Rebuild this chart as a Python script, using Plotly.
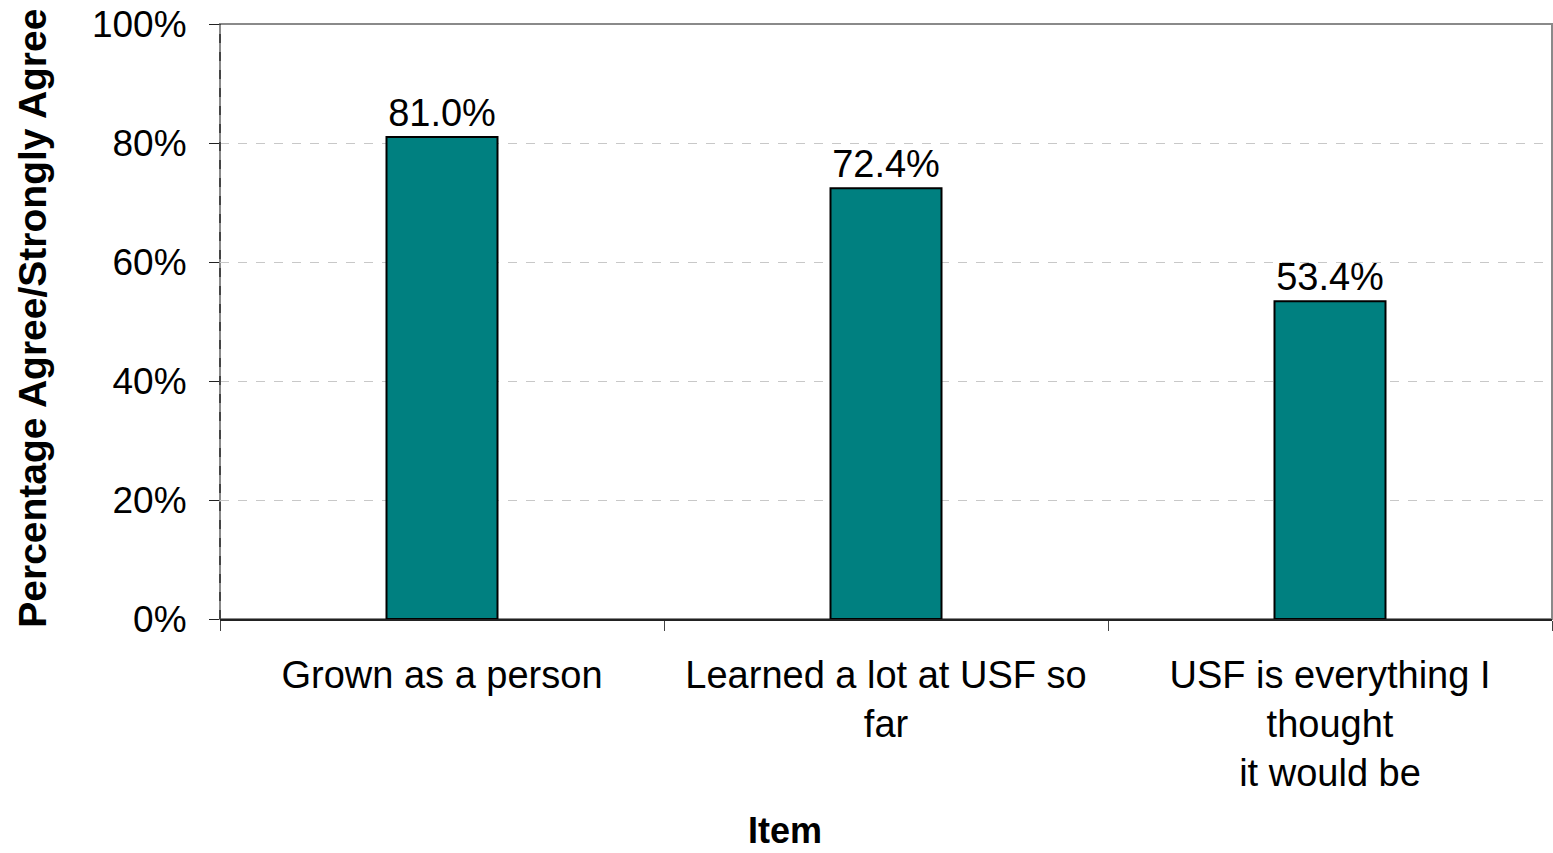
import plotly.graph_objects as go

items = ["Grown as a person", "Learned a lot at USF so<br>far",
         "USF is everything I<br>thought<br>it would be"]
pct = [81.0, 72.4, 53.4]
y_ticks = [0, 20, 40, 60, 80, 100]
y_tick_text = ["0%", "20%", "40%", "60%", "80%", "100%"]

FONT = "Liberation Sans, Arial, sans-serif"

fig = go.Figure(go.Bar(
    x=items, y=pct, width=0.25,
    marker=dict(color="#008080", line=dict(color="#000000", width=2)),
    text=[f"{v:.1f}%" for v in pct], textposition="outside",
    textfont=dict(size=38, color="#000000", family=FONT),
    cliponaxis=False,
))

fig.update_layout(
    width=1553, height=853,
    margin=dict(l=220, r=1, t=24, b=234, autoexpand=False),
    plot_bgcolor="white", paper_bgcolor="white",
    font=dict(family=FONT, color="#000000"),
    showlegend=False,
    shapes=[
        dict(type="rect", xref="paper", yref="paper", x0=0, x1=1, y0=0, y1=1,
             line=dict(color="#8a8a8a", width=2), layer="below"),
        dict(type="line", xref="paper", yref="paper", x0=0, x1=0, y0=0, y1=1,
             line=dict(color="#444444", width=2, dash="dash"), layer="above"),
    ],
    annotations=[
        dict(text="<b>Item</b>", xref="paper", yref="paper", x=0.424, y=-0.355,
             xanchor="center", yanchor="middle", showarrow=False,
             font=dict(size=36)),
        dict(text="<b>Percentage Agree/Strongly Agree</b>", xref="paper", yref="paper",
             x=-0.141, y=0.505, xanchor="center", yanchor="middle", textangle=-90,
             showarrow=False, font=dict(size=39)),
    ],
)
fig.update_xaxes(
    tickfont=dict(size=38), showline=True, linecolor="#222222", linewidth=2,
    ticks="outside", tickson="boundaries", ticklen=10, tickcolor="#444444",
    ticklabelstandoff=21, showgrid=False,
)
fig.update_yaxes(
    range=[0, 100], tickvals=y_ticks, ticktext=y_tick_text,
    tickfont=dict(size=37), ticks="outside", ticklen=10, tickcolor="#222222",
    ticklabelstandoff=15, ticklabeloverflow="allow", showline=False,
    showgrid=True, gridcolor="#c8c8c8", griddash="dash", gridwidth=1,
    zeroline=False,
)

# drop the default 8px body margin so the figure fills the window exactly
fig.write_html("out.html", config={"displayModeBar": False},
               post_script="document.body.style.margin='0';")
